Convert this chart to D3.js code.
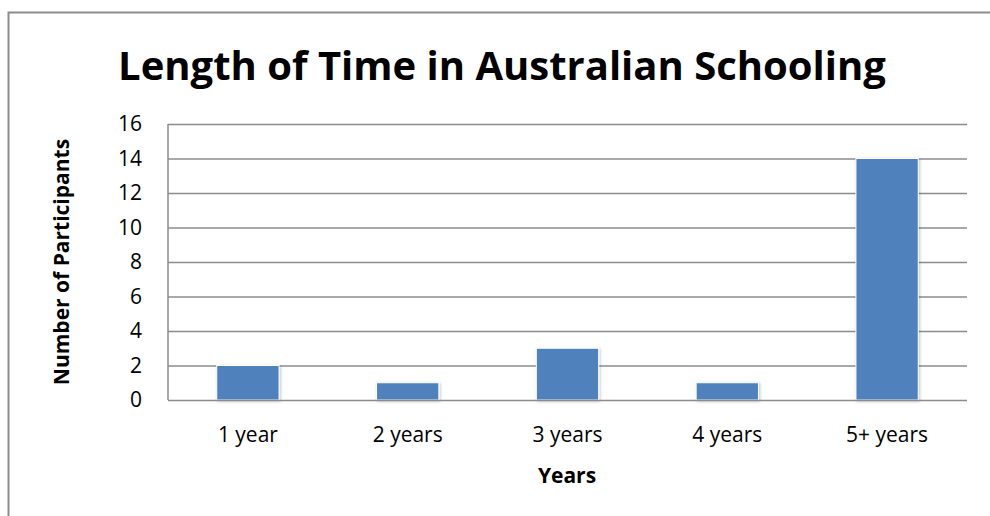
<html>
<head>
	<style>
		body { margin: 0; background: #fff; }
		.bar { fill: #4f81bd; stroke: #fff; stroke-width: 1; }
		text { font-family: "Open Sans", sans-serif; fill: #000; }
	</style>
	<script src="https://d3js.org/d3.v7.min.js"></script>
</head>
<body>
<svg width="990" height="516"></svg>
<script>
	// data
	var categories = ["1 year", "2 years", "3 years", "4 years", "5+ years"];
	var participants = [2, 1, 3, 1, 14];
	var yTicks = [0, 2, 4, 6, 8, 10, 12, 14, 16];

	var svg = d3.select("svg");

	// outer frame
	svg.append("rect")
		.attr("x", 8.5).attr("y", 12.5)
		.attr("width", 1000).attr("height", 1000)
		.attr("fill", "none")
		.attr("stroke", "#8c8c8c")
		.attr("stroke-width", 2);

	var plotLeft = 168, plotRight = 967, plotTop = 124, plotBottom = 400;

	var xScale = d3.scaleBand().domain(categories).range([plotLeft, plotRight]).paddingInner(0.61).paddingOuter(0.305),
		yScale = d3.scaleLinear().domain([0, 16]).range([plotBottom, plotTop]);

	// drop shadow for bars
	var defs = svg.append("defs");
	var f = defs.append("filter").attr("id", "sh").attr("x", "-20%").attr("y", "-20%").attr("width", "140%").attr("height", "140%");
	f.append("feDropShadow").attr("dx", 1).attr("dy", 1).attr("stdDeviation", 1.5).attr("flood-color", "#000").attr("flood-opacity", 0.25);

	// gridlines
	svg.append("g")
		.selectAll("line")
		.data(yTicks.slice(1))
		.enter().append("line")
		.attr("x1", plotLeft).attr("x2", plotRight)
		.attr("y1", function(d) { return yScale(d) + 0.5; })
		.attr("y2", function(d) { return yScale(d) + 0.5; })
		.attr("stroke", "#8c8c8c")
		.attr("stroke-width", 1.5);

	// bars
	svg.append("g")
		.selectAll(".bar")
		.data(participants)
		.enter().append("rect")
		.attr("class", "bar")
		.attr("filter", "url(#sh)")
		.attr("x", function(d, i) { return xScale(categories[i]); })
		.attr("y", function(d) { return yScale(d); })
		.attr("width", xScale.bandwidth())
		.attr("height", function(d) { return plotBottom - yScale(d); });

	// axis lines
	svg.append("line")
		.attr("x1", plotLeft).attr("x2", plotLeft).attr("y1", plotTop).attr("y2", plotBottom)
		.attr("stroke", "#8c8c8c").attr("stroke-width", 1.5);
	svg.append("line")
		.attr("x1", plotLeft).attr("x2", plotRight).attr("y1", plotBottom + 0.5).attr("y2", plotBottom + 0.5)
		.attr("stroke", "#8c8c8c").attr("stroke-width", 1.5);

	// y tick labels
	svg.append("g")
		.selectAll("text")
		.data(yTicks)
		.enter().append("text")
		.attr("x", 142)
		.attr("y", function(d) { return yScale(d); })
		.attr("dy", "0.35em")
		.attr("text-anchor", "end")
		.attr("font-size", "21px")
		.text(function(d) { return d; });

	// x category labels
	svg.append("g")
		.selectAll("text")
		.data(categories)
		.enter().append("text")
		.attr("x", function(d) { return xScale(d) + xScale.bandwidth() / 2; })
		.attr("y", 435)
		.attr("dy", "0.35em")
		.attr("text-anchor", "middle")
		.attr("font-size", "21px")
		.text(function(d) { return d; });

	// title
	svg.append("text")
		.attr("x", 502)
		.attr("y", 80)
		.attr("text-anchor", "middle")
		.attr("font-size", "40px")
		.attr("font-weight", "bold")
		.text("Length of Time in Australian Schooling");

	// axis titles
	svg.append("text")
		.attr("x", 567)
		.attr("y", 476)
		.attr("dy", "0.35em")
		.attr("text-anchor", "middle")
		.attr("font-size", "21px")
		.attr("font-weight", "bold")
		.text("Years");

	svg.append("text")
		.attr("transform", "translate(62,262) rotate(-90)")
		.attr("dy", "0.35em")
		.attr("text-anchor", "middle")
		.attr("font-size", "21px")
		.attr("font-weight", "bold")
		.text("Number of Participants");
</script>
</body>
</html>
